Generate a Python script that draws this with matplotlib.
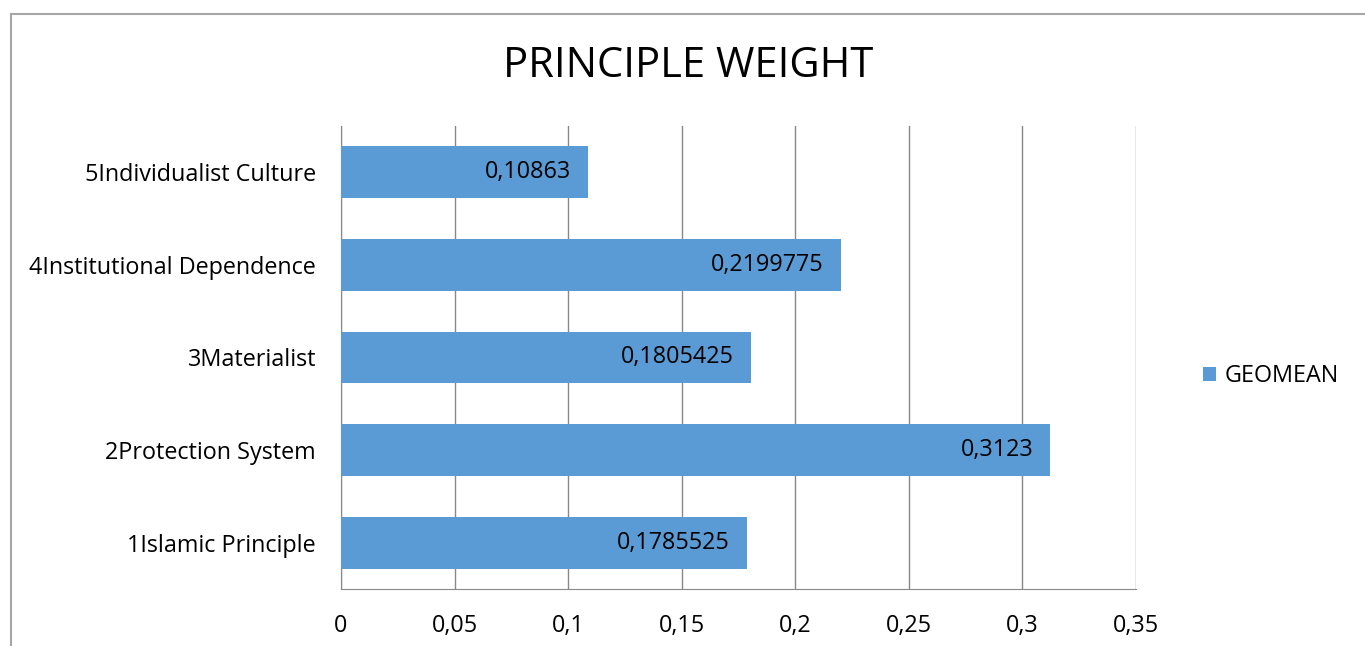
import matplotlib
matplotlib.use("Agg")
import matplotlib.pyplot as plt
from matplotlib.patches import Rectangle

categories = ["1Islamic Principle", "2Protection System", "3Materialist",
              "4Institutional Dependence", "5Individualist Culture"]
geomean = [0.1785525, 0.3123, 0.1805425, 0.2199775, 0.10863]
value_labels = ["0,1785525", "0,3123", "0,1805425", "0,2199775", "0,10863"]
xticks = [0, 0.05, 0.1, 0.15, 0.2, 0.25, 0.3, 0.35]
xtick_labels = ["0", "0,05", "0,1", "0,15", "0,2", "0,25", "0,3", "0,35"]

BAR = "#5B9BD5"
GRID = "#888888"
FS = 16.8
plt.rcParams["font.family"] = ["Open Sans", "DejaVu Sans"]

fig = plt.figure(figsize=(13.65, 6.46), dpi=100)
# outer chart border (bottom edge falls outside the image)
fig.patches.append(Rectangle((11 / 1365, -0.1), 1.2, (646 - 14) / 646 + 0.1, transform=fig.transFigure,
                             fill=False, edgecolor="#A6A6A6", linewidth=1.5))

ax = fig.add_axes([341 / 1365, 57 / 646, 795 / 1365, 463 / 646])
ypos = range(len(categories))
bars = ax.barh(ypos, geomean, height=0.56, color=BAR, label="GEOMEAN", zorder=3)
for b, lab in zip(bars, value_labels):
    ax.text(b.get_width() - 0.0075, b.get_y() + b.get_height() / 2, lab,
            ha="right", va="center", fontsize=FS, color="black", zorder=4)

ax.set_xlim(0, 0.35)
ax.set_ylim(-0.5, len(categories) - 0.5)
ax.set_xticks(xticks)
ax.set_xticklabels(xtick_labels, fontsize=FS)
ax.set_yticks(list(ypos))
ax.set_yticklabels(categories, fontsize=FS)
ax.tick_params(axis="y", length=0, pad=18)
ax.tick_params(axis="x", length=0, pad=18)
ax.grid(axis="x", color=GRID, linewidth=1, zorder=0)
for s in ["top", "right"]:
    ax.spines[s].set_visible(False)
ax.spines["left"].set_color(GRID)
ax.spines["bottom"].set_color(GRID)

fig.text(688 / 1365, 1 - 66 / 646, "PRINCIPLE WEIGHT", ha="center", va="center", fontsize=30)

fig.legend(handles=[bars], labels=["GEOMEAN"], loc="center left", bbox_to_anchor=(1182 / 1365, 1 - 376 / 646),
           frameon=False, fontsize=FS, handlelength=0.56, handleheight=0.56, handletextpad=0.35)

fig.savefig("out.png", dpi=100)
